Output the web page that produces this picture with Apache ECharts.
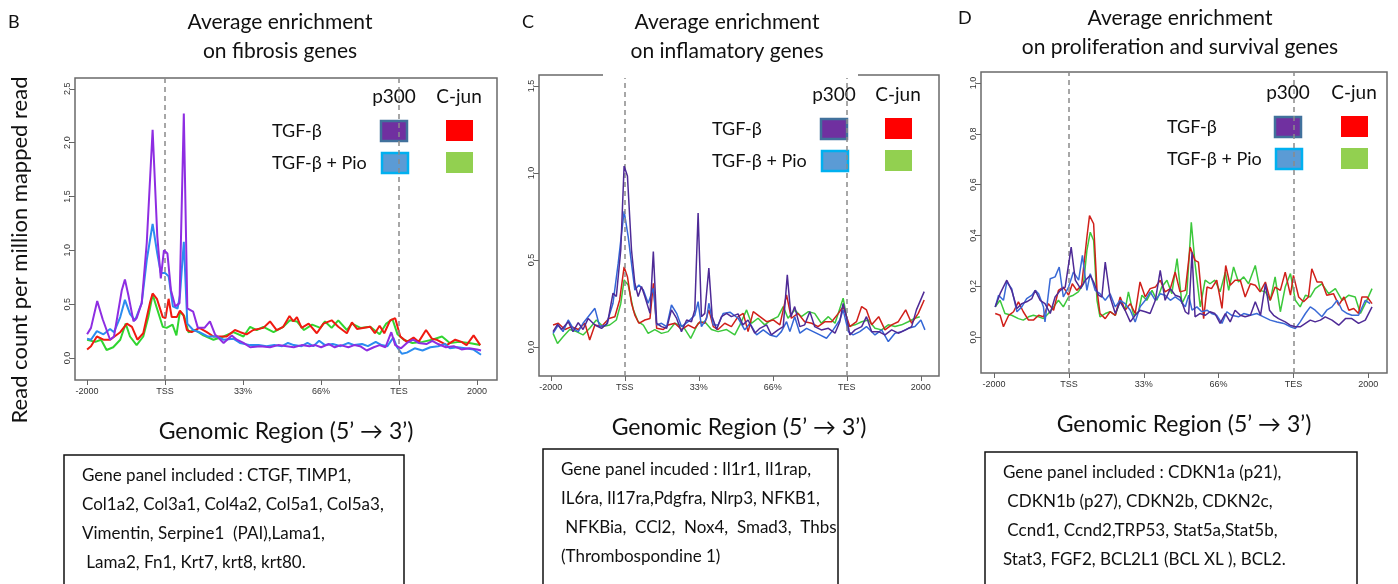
<!DOCTYPE html>
<html>
<head>
<meta charset="utf-8">
<script src="https://cdn.jsdelivr.net/npm/echarts@6/dist/echarts.min.js"></script>
<style>
html,body{margin:0;padding:0;background:#fff;}
#main{width:1398px;height:584px;}
</style>
</head>
<body>
<div id="main"></div>
<script>
// x positions: 0 = -2000, 20 = TSS, 80 = TES, 100 = +2000
var xTicks = [0, 20, 40, 60, 80, 100];
var xTickLabels = ['-2000', 'TSS', '33%', '66%', 'TES', '2000'];
var seriesNames = ['TGF-β p300', 'TGF-β + Pio p300', 'TGF-β C-jun', 'TGF-β + Pio C-jun'];
var bYTicks = [0, 0.5, 1, 1.5, 2, 2.5];
var cYTicks = [0, 0.5, 1, 1.5];
var dYTicks = [0, 0.2, 0.4, 0.6, 0.8, 1];

// B - fibrosis genes
var bP300 = [[0,0.22],[1,0.28],[2.6,0.53],[4,0.36],[5.9,0.17],[6.9,0.2],[8.9,0.63],[9.7,0.73],[10.6,0.58],[11.9,0.34],[12.7,0.37],[14,0.51],[15.3,1.07],[16.8,2.12],[18,1.13],[18.9,0.74],[19.7,1.0],[20.6,0.97],[21.5,0.63],[22.6,0.48],[23.7,0.51],[24.8,2.27],[25.7,0.46],[27.2,0.43],[28.4,0.28],[30.1,0.28],[31.5,0.34],[32.8,0.22],[35,0.14],[37.1,0.21],[38.4,0.17],[40.1,0.14],[41.8,0.1],[44.4,0.11],[46.9,0.1],[49,0.12],[51.2,0.11],[53,0.1],[55,0.12],[57,0.11],[58.5,0.12],[60,0.1],[62,0.13],[63.5,0.1],[65,0.12],[67,0.1],[68.5,0.12],[70,0.11],[71.7,0.07],[73.5,0.1],[75,0.12],[76.5,0.1],[78,0.24],[79,0.12],[80.5,0.09],[82,0.14],[83.6,0.17],[85,0.14],[87,0.13],[88.5,0.16],[90,0.13],[92,0.1],[94,0.11],[96,0.08],[98,0.09],[100,0.08],[101,0.07]];
var bP300Pio = [[0,0.18],[1,0.17],[2.5,0.25],[4.2,0.22],[5.9,0.27],[6.9,0.24],[8.5,0.38],[9.7,0.54],[11,0.41],[12.3,0.35],[14,0.51],[15.3,0.91],[16.8,1.245],[18,0.97],[18.9,0.79],[20,0.79],[20.9,0.76],[22,0.48],[23.2,0.46],[23.8,0.58],[24.8,1.08],[25.7,0.32],[27.2,0.26],[28.8,0.24],[30.9,0.2],[33.2,0.2],[35,0.17],[37.5,0.18],[39.2,0.14],[41.8,0.12],[44,0.12],[46,0.11],[48,0.12],[50,0.11],[51.5,0.14],[53,0.12],[55,0.11],[56.5,0.14],[58,0.11],[59.5,0.16],[61,0.12],[63,0.13],[65,0.11],[67,0.14],[68.5,0.12],[70.5,0.13],[72,0.11],[74,0.15],[75.5,0.12],[77,0.11],[78.5,0.19],[79.5,0.1],[80.7,0.04],[82,0.05],[84,0.09],[86,0.07],[88,0.1],[90,0.11],[91.8,0.13],[93,0.09],[95,0.1],[97,0.09],[99,0.08],[101,0.03]];
var bCjun = [[0,0.08],[1,0.11],[2.5,0.2],[4.2,0.17],[5.9,0.17],[8.5,0.24],[10.2,0.32],[11.5,0.29],[12.9,0.17],[14.4,0.23],[16.1,0.51],[16.8,0.6],[17.9,0.55],[19.4,0.38],[20.1,0.37],[20.9,0.55],[21.7,0.38],[23,0.38],[23.8,0.44],[24.7,0.4],[25.6,0.26],[26.8,0.24],[28.8,0.28],[30.7,0.24],[32.4,0.2],[35.8,0.2],[37.9,0.26],[39.3,0.24],[40.9,0.22],[42.6,0.26],[45.2,0.28],[46.9,0.34],[48.6,0.26],[50.3,0.29],[51.9,0.39],[52.9,0.34],[53.8,0.38],[55,0.28],[56.8,0.32],[58.9,0.23],[60.6,0.32],[62.7,0.35],[64.4,0.29],[66.6,0.23],[67.9,0.33],[69.2,0.27],[72.6,0.29],[73.8,0.23],[75,0.3],[76.2,0.23],[77.7,0.35],[79,0.37],[80.3,0.2],[82,0.15],[83.7,0.19],[85,0.15],[86.9,0.26],[88.4,0.18],[89.6,0.17],[92.2,0.12],[94.4,0.17],[96,0.15],[97.3,0.12],[99.1,0.21],[100.8,0.12]];
var bCjunPio = [[0,0.17],[2.1,0.15],[3.6,0.17],[5,0.075],[6.7,0.1],[8.5,0.17],[9.9,0.32],[11,0.2],[12.7,0.12],[14.4,0.2],[15.7,0.38],[16.8,0.59],[18,0.45],[19.4,0.29],[20.4,0.28],[21.9,0.31],[22.9,0.21],[23.8,0.43],[24.9,0.39],[26,0.24],[27.7,0.26],[29.8,0.21],[32.4,0.17],[35,0.2],[37.5,0.24],[40.1,0.2],[41.8,0.29],[43.5,0.26],[45.2,0.29],[47.8,0.24],[50.3,0.29],[52,0.35],[53.8,0.34],[55.6,0.26],[57.7,0.31],[59.8,0.28],[61,0.34],[62.7,0.28],[64.4,0.35],[66.6,0.26],[67.9,0.32],[70.1,0.28],[72.6,0.29],[75,0.22],[76.7,0.32],[78.3,0.36],[79.6,0.22],[81.2,0.17],[83.4,0.14],[86,0.15],[88.5,0.17],[91,0.2],[93,0.14],[95.5,0.15],[98,0.14],[100.8,0.12]];

// C - inflammatory genes
var cP300 = [[0.6,0.088],[1.8,0.13],[2.9,0.1],[4.7,0.145],[6,0.088],[7.4,0.14],[8.7,0.1],[10.1,0.164],[11.9,0.126],[13.7,0.107],[15.3,0.136],[16.8,0.309],[17.7,0.29],[18.9,0.557],[19.8,1.04],[20.7,0.983],[21.8,0.557],[22.7,0.366],[23.6,0.29],[24.5,0.347],[25.4,0.29],[26.8,0.193],[27.7,0.548],[28.6,0.136],[29.9,0.117],[31.3,0.107],[32.6,0.213],[34,0.164],[35.3,0.088],[36.7,0.155],[38,0.145],[38.9,0.213],[39.8,0.77],[40.7,0.174],[41.6,0.193],[42.7,0.454],[43.6,0.174],[44.8,0.1],[46.1,0.174],[47.5,0.193],[48.8,0.174],[50.6,0.19],[51.9,0.127],[53.3,0.155],[55.1,0.079],[56.5,0.107],[58.3,0.127],[59.6,0.069],[61.4,0.098],[62.8,0.117],[63.9,0.414],[64.9,0.174],[65.9,0.232],[67.3,0.117],[68.6,0.127],[70,0.203],[71.3,0.117],[73.1,0.098],[75,0.107],[76.8,0.079],[78.1,0.145],[79,0.25],[79.9,0.174],[80.8,0.069],[82.2,0.098],[84,0.117],[85.3,0.174],[86.7,0.088],[88.6,0.088],[90.3,0.069],[92.1,0.098],[93.9,0.079],[95.9,0.098],[97.5,0.117],[98.8,0.213],[100.9,0.318]];
var cP300Pio = [[0.6,0.078],[2,0.126],[3.3,0.088],[4.7,0.155],[6,0.107],[7.4,0.088],[8.7,0.136],[10.1,0.174],[11.9,0.222],[13.2,0.117],[15,0.126],[16.8,0.251],[18.2,0.48],[19.8,0.78],[20.9,0.634],[21.8,0.48],[22.7,0.327],[23.8,0.356],[25,0.327],[26.3,0.251],[27.7,0.337],[28.6,0.126],[29.9,0.136],[31.3,0.117],[32.6,0.241],[34,0.193],[35.3,0.117],[37.1,0.145],[38.9,0.183],[39.8,0.26],[40.7,0.117],[42.1,0.164],[42.7,0.251],[43.9,0.126],[45.2,0.126],[46.6,0.193],[48.4,0.2],[50.6,0.165],[52.4,0.098],[53.8,0.136],[55.6,0.069],[57.4,0.098],[59.2,0.069],[61,0.059],[62.3,0.088],[63.7,0.145],[64.6,0.088],[65.9,0.174],[67.3,0.079],[69.1,0.107],[70.9,0.088],[72.7,0.069],[74.5,0.05],[76.3,0.098],[78.1,0.155],[79,0.213],[80.4,0.088],[81.7,0.069],[83.5,0.088],[85.3,0.117],[87.6,0.069],[89.4,0.098],[91.2,0.031],[93,0.079],[94.8,0.088],[96.6,0.107],[98.4,0.117],[100,0.155],[101.1,0.098]];
var cCjun = [[0.6,0.126],[2,0.136],[3.8,0.1],[5.6,0.117],[7.4,0.1],[9.2,0.136],[10.5,0.04],[11.9,0.126],[13.7,0.117],[15.7,0.164],[17.3,0.174],[18.6,0.27],[19.8,0.46],[20.7,0.404],[21.8,0.251],[22.7,0.183],[23.8,0.136],[25.4,0.155],[26.8,0.164],[27.7,0.366],[28.6,0.107],[30.4,0.1],[31.7,0.126],[33.5,0.136],[35.3,0.1],[37.1,0.126],[38.9,0.107],[40.3,0.145],[41.6,0.136],[42.7,0.213],[43.9,0.117],[45.2,0.1],[47,0.136],[48.8,0.117],[50.6,0.174],[52,0.193],[53.3,0.088],[54.7,0.203],[56.5,0.174],[58.3,0.145],[60.1,0.155],[61.9,0.127],[63.7,0.299],[65,0.165],[66.8,0.193],[68.6,0.145],[70.5,0.136],[72.2,0.117],[74.1,0.145],[75.9,0.145],[77.7,0.193],[79,0.232],[80.8,0.117],[82.6,0.145],[84,0.232],[85.3,0.213],[86.7,0.127],[88.6,0.174],[90.3,0.098],[92.1,0.127],[93.9,0.145],[95.9,0.213],[97.5,0.136],[99.3,0.193],[100.9,0.27]];
var cCjunPio = [[0.6,0.078],[1.8,0.02],[3.3,0.059],[5.1,0.1],[6.9,0.088],[8.7,0.069],[10.5,0.107],[12.3,0.155],[14.1,0.117],[15.9,0.126],[17.7,0.155],[18.9,0.25],[19.8,0.385],[20.9,0.356],[22.3,0.213],[23.6,0.145],[25,0.126],[26.3,0.078],[28.1,0.1],[29.9,0.078],[31.7,0.088],[33.5,0.136],[35.8,0.117],[37.8,0.049],[39.8,0.136],[41.6,0.145],[43.4,0.1],[45.2,0.088],[47.5,0.1],[49.7,0.069],[51.1,0.127],[52.9,0.213],[54.2,0.136],[56,0.165],[57.8,0.127],[59.6,0.155],[61.4,0.174],[62.8,0.232],[64.1,0.165],[65.9,0.213],[67.7,0.174],[69.6,0.203],[71.3,0.193],[73.1,0.136],[75,0.174],[76.8,0.136],[79,0.28],[80.4,0.117],[82.2,0.127],[84,0.145],[85.8,0.155],[87.6,0.107],[89.4,0.098],[91.2,0.127],[93,0.117],[94.8,0.127],[96.6,0.145],[98.4,0.165],[99.7,0.174]];

// D - proliferation and survival genes
var dP300 = [[0.3,0.119],[1.6,0.171],[3.4,0.224],[4.7,0.184],[6.1,0.113],[7.4,0.132],[8.7,0.139],[10.1,0.152],[11,0.184],[12.3,0.145],[13.6,0.132],[15,0.093],[16.3,0.158],[17.7,0.184],[19,0.197],[20.6,0.354],[21.7,0.224],[23.1,0.191],[24.4,0.224],[25.7,0.243],[26.6,0.217],[27.9,0.165],[28.8,0.158],[29.7,0.295],[31,0.158],[32.4,0.093],[33.7,0.139],[35,0.106],[36.4,0.06],[37.7,0.086],[39,0.106],[40.4,0.1],[41.7,0.093],[43.1,0.145],[44.4,0.263],[45.7,0.145],[47.1,0.191],[48.4,0.165],[49.7,0.158],[51.1,0.1],[52,0.09],[52.9,0.334],[53.7,0.08],[55,0.093],[56.4,0.086],[57.7,0.1],[59,0.093],[60.4,0.054],[61.8,0.093],[63.1,0.06],[64.4,0.106],[65.8,0.086],[67.1,0.08],[68.5,0.086],[69.8,0.139],[71.2,0.086],[72.5,0.21],[73.6,0.106],[74.7,0.086],[76,0.073],[77.8,0.06],[79.1,0.047],[80.5,0.041],[81.9,0.041],[83.2,0.054],[84.5,0.067],[85.8,0.06],[87.2,0.067],[88.5,0.08],[90.3,0.067],[92.1,0.047],[93.9,0.073],[95.6,0.073],[97.4,0.054],[99.2,0.067],[101,0.119]];
var dP300Pio = [[0.3,0.119],[1.2,0.165],[2.5,0.145],[3.4,0.217],[4.7,0.191],[6.1,0.1],[7.4,0.119],[8.7,0.152],[10.1,0.165],[11,0.184],[11.9,0.171],[13.2,0.119],[13.6,0.06],[15,0.23],[16.3,0.237],[17.4,0.276],[18.5,0.158],[19.9,0.197],[21.2,0.256],[22.6,0.224],[23.6,0.322],[24.8,0.184],[25.7,0.25],[27,0.184],[28.3,0.171],[29.7,0.145],[31,0.171],[32.4,0.119],[33.7,0.145],[35,0.132],[36.4,0.106],[37.7,0.06],[39,0.119],[40.4,0.145],[41.7,0.178],[43.1,0.145],[44.4,0.171],[45.7,0.165],[47.1,0.145],[48.4,0.158],[49.7,0.145],[51.1,0.119],[52,0.165],[52.9,0.106],[54.2,0.119],[55.5,0.1],[56.9,0.106],[58.1,0.093],[59.5,0.086],[60.9,0.054],[62.2,0.1],[63.5,0.086],[65.3,0.08],[66.7,0.093],[68.5,0.086],[70.2,0.093],[72,0.08],[73.8,0.067],[75.6,0.06],[77.4,0.054],[79.2,0.041],[80.5,0.034],[81.8,0.06],[83.2,0.093],[84.5,0.119],[85.8,0.106],[87.6,0.08],[88.9,0.106],[90.3,0.119],[91.7,0.145],[93,0.106],[94.4,0.093],[95.6,0.086],[97.4,0.086],[99.2,0.145],[100.5,0.132]];
var dCjun = [[0.3,0.093],[1.6,0.086],[2.5,0.041],[3.9,0.086],[5.2,0.1],[6.5,0.139],[7.8,0.1],[9.2,0.067],[10.5,0.067],[11.9,0.086],[13.2,0.08],[14.5,0.132],[15.9,0.106],[17.2,0.184],[18.5,0.197],[19.9,0.165],[20.9,0.21],[22.1,0.184],[23.4,0.204],[24.8,0.393],[25.5,0.478],[26.6,0.446],[27.5,0.184],[28.3,0.093],[29.7,0.073],[31,0.1],[32.4,0.086],[33.7,0.158],[35,0.106],[36.4,0.132],[37.7,0.093],[39,0.217],[40.4,0.158],[41.7,0.191],[43.1,0.197],[44.4,0.224],[45.7,0.178],[47.1,0.191],[48.4,0.256],[49.7,0.178],[51.1,0.184],[52.4,0.354],[53.7,0.302],[54.6,0.295],[56,0.073],[56.9,0.197],[58.1,0.191],[59.5,0.224],[60.9,0.113],[61.9,0.282],[63.1,0.204],[64.4,0.224],[65.8,0.224],[67.1,0.158],[68.5,0.21],[69.8,0.204],[71.1,0.178],[72.5,0.217],[73.8,0.145],[75.1,0.197],[76.5,0.184],[77.8,0.256],[79.2,0.165],[80,0.243],[81.4,0.158],[82.7,0.139],[84,0.158],[84.9,0.269],[86.3,0.217],[87.6,0.217],[88.9,0.165],[90.7,0.171],[92.1,0.126],[93.5,0.158],[94.8,0.106],[96.1,0.113],[97.4,0.093],[98.3,0.158],[99.7,0.158],[101,0.132]];
var dCjunPio = [[0.3,0.119],[1.6,0.145],[2.9,0.093],[4.7,0.086],[6.5,0.073],[7.8,0.067],[9.2,0.08],[10.5,0.086],[11.9,0.08],[13.2,0.073],[14.5,0.093],[15.9,0.119],[17.2,0.145],[18.5,0.119],[19.9,0.158],[21.2,0.165],[22.5,0.178],[23.9,0.21],[24.8,0.341],[25.7,0.413],[26.6,0.38],[27.5,0.145],[28.3,0.08],[29.7,0.093],[31,0.1],[32.4,0.086],[33.7,0.145],[35,0.106],[35.9,0.178],[37.3,0.086],[38.6,0.1],[39.5,0.165],[40.8,0.145],[42.2,0.184],[43.5,0.145],[44.8,0.197],[46.2,0.224],[47.5,0.171],[48.9,0.309],[50.2,0.132],[51.5,0.171],[52.7,0.452],[53.7,0.289],[55.1,0.119],[56.4,0.224],[57.7,0.21],[59,0.224],[60.4,0.178],[61.8,0.256],[62.7,0.184],[64,0.276],[65.3,0.217],[66.7,0.237],[68,0.21],[69.8,0.282],[71.1,0.184],[72.5,0.178],[73.8,0.145],[75.1,0.237],[76.5,0.1],[77.8,0.197],[79.2,0.25],[80.5,0.145],[81.8,0.119],[83.2,0.165],[84.5,0.158],[85.8,0.191],[87.6,0.21],[89.4,0.171],[91.2,0.191],[93,0.145],[94.8,0.165],[96.5,0.158],[97.9,0.093],[99.2,0.132],[101,0.191]];

var titles1 = ['Average enrichment', 'Average enrichment', 'Average enrichment'];
var titles2 = ['on fibrosis genes', 'on inflamatory genes', 'on proliferation and survival genes'];
var panelLetters = ['B', 'C', 'D'];
var geneText = [
    ['Gene panel included : CTGF, TIMP1,', 'Col1a2, Col3a1, Col4a2, Col5a1, Col5a3,', 'Vimentin, Serpine1  (PAI),Lama1,', ' Lama2, Fn1, Krt7, krt8, krt80.'],
    ['Gene panel incuded : Il1r1, Il1rap,', 'IL6ra, Il17ra,Pdgfra, Nlrp3, NFKB1,', ' NFKBia,  CCl2,  Nox4,  Smad3,  Thbs', '(Thrombospondine 1)'],
    ['Gene panel included : CDKN1a (p21),', ' CDKN1b (p27), CDKN2b, CDKN2c,', ' Ccnd1, Ccnd2,TRP53, Stat5a,Stat5b,', 'Stat3, FGF2, BCL2L1 (BCL XL ), BCL2.']
];

var CAL = 'Lato, "Liberation Sans", sans-serif';
var ARIAL = '"Liberation Sans", Arial, sans-serif';

var panels = [
    {grid: {left: 75, top: 78, width: 422, height: 302}, xMin: -3.1, xMax: 105.1, yMin: -0.204, yMax: 2.6, yTicks: bYTicks,
     data: [bP300, bP300Pio, bCjun, bCjunPio], colors: ['#8E2DE2', '#2B8CF0', '#F01A10', '#30D530'], lw: 2,
     titleX: 280, titleY: 22, letterX: 8, letterY: 22, box: [64, 455, 340]},
    {grid: {left: 539, top: 75, width: 400, height: 301}, xMin: -3.2, xMax: 104.9, yMin: -0.167, yMax: 1.563, yTicks: cYTicks,
     data: [cP300, cP300Pio, cCjun, cCjunPio], colors: ['#4E2A96', '#3366D6', '#D0201A', '#3CC83C'], lw: 1.5,
     titleX: 727, titleY: 22, letterX: 522, letterY: 22, box: [543, 449, 295]},
    {grid: {left: 981, top: 72, width: 406, height: 301}, xMin: -3.5, xMax: 105, yMin: -0.141, yMax: 1.043, yTicks: dYTicks,
     data: [dP300, dP300Pio, dCjun, dCjunPio], colors: ['#4E2A96', '#3A6AD6', '#D0201A', '#3CC83C'], lw: 1.5,
     titleX: 1180, titleY: 18, letterX: 958, letterY: 18, box: [985, 452, 372]}
];
// legend layout: [label x, p300 square x, c-jun square x, header y, row1 y, row2 y]
var legendPos = [
    [272, 381, 446, 97, 131, 163],
    [712, 821, 885, 95, 129, 161],
    [1167, 1275, 1341, 93, 127, 159]
];

var myChart = echarts.init(document.getElementById('main'));
var grids = [], xAxes = [], yAxes = [], series = [], graphics = [];

panels.forEach(function (p, i) {
    grids.push({left: p.grid.left, top: p.grid.top, width: p.grid.width, height: p.grid.height,
        show: true, borderColor: '#6a6a6a', borderWidth: 1.5, backgroundColor: 'transparent'});
    xAxes.push({
        type: 'value', gridIndex: i, min: p.xMin, max: p.xMax, position: 'bottom',
        name: 'Genomic Region (5’ → 3’)', nameLocation: 'middle', nameGap: 40,
        nameTextStyle: {fontFamily: CAL, fontSize: 23, color: '#111'},
        axisLine: {show: false, onZero: false}, splitLine: {show: false},
        axisTick: {show: true, length: 5, customValues: xTicks, lineStyle: {color: '#666'}},
        axisLabel: {customValues: xTicks, fontFamily: ARIAL, fontSize: 9, color: '#333', margin: 7,
            formatter: function (v) { return xTickLabels[xTicks.indexOf(v)]; }}
    });
    yAxes.push({
        type: 'value', gridIndex: i, min: p.yMin, max: p.yMax, position: 'left',
        axisLine: {show: false, onZero: false}, splitLine: {show: false},
        axisTick: {show: true, length: 5, customValues: p.yTicks, lineStyle: {color: '#666'}},
        axisLabel: {customValues: p.yTicks, rotate: 90, fontFamily: ARIAL, fontSize: 9, color: '#333', margin: 3,
            formatter: function (v) { return v.toFixed(1); }}
    });
    p.data.forEach(function (d, k) {
        var s = {
            name: seriesNames[k], type: 'line', xAxisIndex: i, yAxisIndex: i, data: d,
            showSymbol: false, silent: true, animation: false,
            lineStyle: {color: p.colors[k], width: p.lw}, z: 5 - k
        };
        if (k === 0) {
            s.markLine = {silent: true, symbol: 'none', label: {show: false}, animation: false,
                lineStyle: {type: [5, 4], color: '#8a8a8a', width: 1.5},
                data: [{xAxis: 20}, {xAxis: 80}]};
        }
        series.push(s);
    });

    // titles
    graphics.push({type: 'text', x: p.letterX, y: p.letterY, style: {text: panelLetters[i], font: '18px ' + CAL, fill: '#111', verticalAlign: 'middle', textVerticalAlign: 'middle'}});
    graphics.push({type: 'text', x: p.titleX, y: p.titleY, style: {text: titles1[i], font: '21px ' + CAL, fill: '#111', align: 'center', textAlign: 'center', verticalAlign: 'middle', textVerticalAlign: 'middle'}});
    graphics.push({type: 'text', x: p.titleX, y: p.titleY + 29, style: {text: titles2[i], font: '21px ' + CAL, fill: '#111', align: 'center', textAlign: 'center', verticalAlign: 'middle', textVerticalAlign: 'middle'}});

    // legend
    var L = legendPos[i];
    var lf = '18px ' + CAL;
    graphics.push({type: 'text', x: L[1] + 13, y: L[3], style: {text: 'p300', font: '19px ' + CAL, fill: '#111', align: 'center', textAlign: 'center', verticalAlign: 'middle', textVerticalAlign: 'middle'}});
    graphics.push({type: 'text', x: L[2] + 13, y: L[3], style: {text: 'C-jun', font: '19px ' + CAL, fill: '#111', align: 'center', textAlign: 'center', verticalAlign: 'middle', textVerticalAlign: 'middle'}});
    graphics.push({type: 'text', x: L[0], y: L[4], style: {text: 'TGF-β', font: lf, fill: '#111', verticalAlign: 'middle', textVerticalAlign: 'middle'}});
    graphics.push({type: 'text', x: L[0], y: L[5], style: {text: 'TGF-β + Pio', font: lf, fill: '#111', verticalAlign: 'middle', textVerticalAlign: 'middle'}});
    graphics.push({type: 'rect', shape: {x: L[1], y: L[4] - 10, width: 26, height: 20}, style: {fill: '#7030A0', stroke: '#41719C', lineWidth: 2.5}});
    graphics.push({type: 'rect', shape: {x: L[2], y: L[4] - 11, width: 27, height: 21}, style: {fill: '#FF0000'}});
    graphics.push({type: 'rect', shape: {x: L[1] + 1, y: L[5] - 10, width: 26, height: 20}, style: {fill: '#5B9BD5', stroke: '#00B0F0', lineWidth: 2.5}});
    graphics.push({type: 'rect', shape: {x: L[2], y: L[5] - 11, width: 27, height: 21}, style: {fill: '#92D050'}});

    // gene panel box
    var b = p.box;
    graphics.push({type: 'rect', shape: {x: b[0], y: b[1], width: b[2], height: 150}, style: {fill: 'none', stroke: '#111', lineWidth: 1.5}});
    geneText[i].forEach(function (t, j) {
        graphics.push({type: 'text', x: b[0] + 18, y: b[1] + 21 + j * 28.7, style: {text: t, font: '17px ' + CAL, fill: '#111', verticalAlign: 'middle', textVerticalAlign: 'middle'}});
    });
});

// y axis title
graphics.push({type: 'text', x: 20, y: 250, rotation: Math.PI / 2, style: {text: 'Read count per million mapped read', font: '22px ' + CAL, fill: '#111', align: 'center', textAlign: 'center', verticalAlign: 'middle', textVerticalAlign: 'middle'}});
// gap in the top border of panel C
graphics.push({type: 'rect', z: 100, shape: {x: 603, y: 72, width: 255, height: 6}, style: {fill: '#fff'}});

myChart.setOption({
    backgroundColor: '#fff',
    animation: false,
    grid: grids,
    xAxis: xAxes,
    yAxis: yAxes,
    series: series,
    graphic: graphics
});
</script>
</body>
</html>
